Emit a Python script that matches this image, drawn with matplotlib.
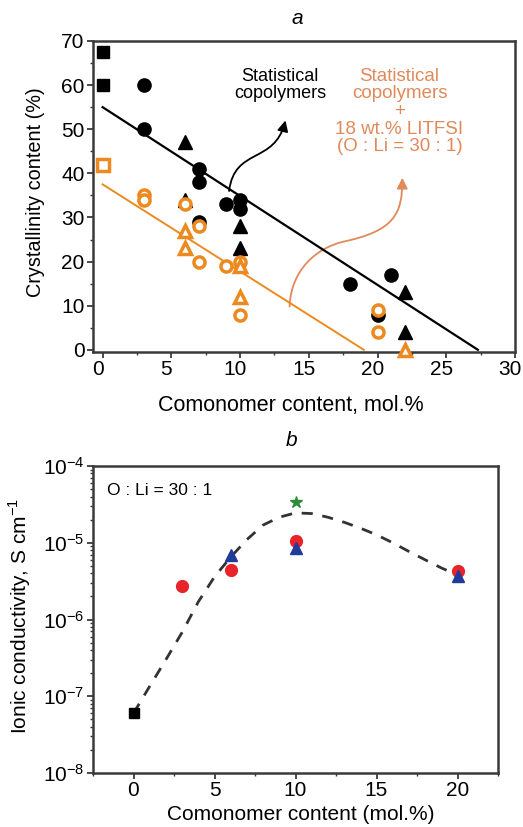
import numpy as np
import matplotlib
matplotlib.use('Agg')
import matplotlib.pyplot as plt
from matplotlib.path import Path
from matplotlib.patches import FancyArrowPatch
from matplotlib.transforms import ScaledTranslation
from matplotlib.ticker import MultipleLocator, LogLocator, NullFormatter

plt.rcParams['font.family'] = ['Liberation Sans', 'DejaVu Sans']
plt.rcParams['mathtext.fontset'] = 'custom'
plt.rcParams['mathtext.rm'] = 'Liberation Sans'

ORANGE = '#ec8a1f'
SALMON = '#e0895a'

# ---- panel a data (crystallinity, %)
sq_x = [0, 0]
sq_y = [67.5, 60]
circ_x = [3, 3, 7, 7, 7, 9, 10, 10, 18, 21, 20]
circ_y = [60, 50, 41, 38, 29, 33, 34, 32, 15, 17, 8]
tri_x = [6, 6, 10, 10, 22, 22]
tri_y = [47, 34, 28, 23, 13, 4]

o_sq_x = [0]
o_sq_y = [42]
o_circ_x = [3, 3, 6, 7, 7, 9, 10, 10, 20, 20]
o_circ_y = [35, 34, 33, 28, 20, 19, 20, 8, 9, 4]
o_tri_x = [6, 6, 10, 10, 22]
o_tri_y = [27, 23, 19, 12, 0]

fit_black_x = [0, 27.3]
fit_black_y = [55, 0]
fit_orange_x = [0, 19]
fit_orange_y = [37.5, 0]

# ---- panel b data (ionic conductivity, S/cm)
b_sq_x = [0]
b_sq_y = [6e-8]
b_red_x = [3, 6, 10, 20]
b_red_y = [2.7e-6, 4.4e-6, 1.06e-5, 4.3e-6]
b_blue_x = [6, 10, 20]
b_blue_y = [6.9e-6, 8.5e-6, 3.7e-6]
b_star_x = [10]
b_star_y = [3.4e-5]
guide_x = [0, 1, 2, 3, 4, 5, 6, 7, 8, 9, 10, 11, 12, 13, 14, 15, 16, 17, 18, 19, 20]
guide_y = [6e-8, 1.35e-7, 3e-7, 6.8e-7, 1.7e-6, 3.6e-6, 6.5e-6, 1.1e-5, 1.7e-5, 2.15e-5, 2.45e-5,
           2.4e-5, 2.15e-5, 1.85e-5, 1.55e-5, 1.27e-5, 1.0e-5, 7.7e-6, 6e-6, 4.7e-6, 3.8e-6]

fig = plt.figure(figsize=(5.23, 8.27), dpi=100)
W, H = 523, 827
ax1 = fig.add_axes([93 / W, 1 - 352 / H, (515 - 93) / W, (352 - 41) / H])
ax2 = fig.add_axes([93 / W, 1 - 773 / H, (498 - 93) / W, (773 - 466) / H])

for ax in (ax1, ax2):
    for s in ax.spines.values():
        s.set_linewidth(1.8)
        s.set_color('#3a3a3a')
    ax.tick_params(which='major', direction='out', length=4, width=1.3, labelsize=15,
                   color='#3a3a3a', pad=2)
    ax.tick_params(which='minor', direction='out', length=2.5, width=1.0, color='#3a3a3a')

# panel a
ax1.plot(fit_black_x, fit_black_y, color='black', lw=1.6)
ax1.plot(fit_orange_x, fit_orange_y, color=ORANGE, lw=1.4)

ax1.plot(sq_x, sq_y, 's', color='black', ms=9, clip_on=False, zorder=5)
ax1.plot(circ_x, circ_y, 'o', color='black', ms=9.5, zorder=3)
ax1.plot(tri_x, tri_y, '^', color='black', ms=9.5, zorder=3)
ax1.plot(o_sq_x, o_sq_y, 's', mfc='white', mec=ORANGE, mew=2.5, ms=8, clip_on=False, zorder=5)
ax1.plot(o_circ_x, o_circ_y, 'o', mfc='white', mec=ORANGE, mew=2.5, ms=8, zorder=4)
ax1.plot(o_tri_x, o_tri_y, '^', mfc='white', mec=ORANGE, mew=2.5, ms=9, clip_on=False, zorder=4)

ax1.set_xlim(-0.7, 30)
ax1.set_ylim(-0.5, 70)
ax1.xaxis.set_major_locator(MultipleLocator(5))
ax1.xaxis.set_minor_locator(MultipleLocator(2.5))
ax1.yaxis.set_major_locator(MultipleLocator(10))
ax1.yaxis.set_minor_locator(MultipleLocator(5))
ax1.set_xlabel('Comonomer content, mol.%', fontsize=15.5)
ax1.set_ylabel('Crystallinity content (%)', fontsize=14.3)
ax1.xaxis.set_label_coords(0.469, -0.138)
ax1.yaxis.set_label_coords(-0.114, 0.514)

# tick labels sit a little left of their ticks in the original
shift = ScaledTranslation(-5 / 100, 0, fig.dpi_scale_trans)
for lab in ax1.get_xticklabels():
    lab.set_transform(lab.get_transform() + shift)

ax1.text(12.9, 60, 'Statistical\ncopolymers', ha='center', va='center', fontsize=13,
         linespacing=0.95)
ax1.text(21.6, 54, 'Statistical\ncopolymers\n+\n18 wt.% LITFSI\n(O : Li = 30 : 1)',
         ha='center', va='center', fontsize=13.5, color=SALMON, linespacing=1.05)

black_path = Path([(9.2, 36), (9.6, 46), (12.5, 42), (13.3, 52)],
                  [Path.MOVETO, Path.CURVE4, Path.CURVE4, Path.CURVE4])
ax1.add_patch(FancyArrowPatch(path=black_path, arrowstyle='-|>', mutation_scale=16,
                              color='black', lw=1.3))
orange_path = Path([(13.6, 9.8), (13.7, 18), (15.5, 23), (17.5, 24.5),
                    (21.3, 27), (21.8, 31), (21.8, 39)],
                   [Path.MOVETO, Path.CURVE4, Path.CURVE4, Path.CURVE4,
                    Path.CURVE4, Path.CURVE4, Path.CURVE4])
ax1.add_patch(FancyArrowPatch(path=orange_path, arrowstyle='-|>', mutation_scale=16,
                              color=SALMON, lw=1.3))

# panel b
ax2.set_yscale('log')
ax2.plot(guide_x, guide_y, '--', color='#333333', lw=2, dashes=(4, 3.5), zorder=2)
ax2.plot(b_sq_x, b_sq_y, 's', color='black', ms=7, zorder=4)
ax2.plot(b_red_x, b_red_y, 'o', color='#e8232a', ms=8.5, zorder=3)
ax2.plot(b_blue_x, b_blue_y, '^', color='#1f3c9a', ms=9, zorder=4)
ax2.plot(b_star_x, b_star_y, '*', color='#2e8b3a', ms=9, zorder=4)

ax2.set_xlim(-2.5, 22.5)
ax2.set_ylim(1e-8, 1e-4)
ax2.xaxis.set_major_locator(MultipleLocator(5))
ax2.xaxis.set_minor_locator(MultipleLocator(2.5))
ax2.yaxis.set_major_locator(LogLocator(base=10, numticks=10))
ax2.yaxis.set_minor_locator(LogLocator(base=10, subs=np.arange(2, 10), numticks=10))
ax2.yaxis.set_minor_formatter(NullFormatter())
ax2.set_xlabel('Comonomer content (mol.%)', fontsize=15)
ax2.set_ylabel('Ionic conductivity, S cm$^{-1}$', fontsize=15)
ax2.xaxis.set_label_coords(0.514, -0.103)
ax2.yaxis.set_label_coords(-0.148, 0.511)
ax2.text(0.035, 0.92, 'O : Li = 30 : 1', transform=ax2.transAxes, fontsize=12.5, va='center')

fig.text(297 / W, 1 - 19 / H, 'a', fontsize=15, style='italic', ha='center', va='center')
fig.text(292 / W, 1 - 440 / H, 'b', fontsize=15, style='italic', ha='center', va='center')

fig.savefig('out.png', dpi=100)
